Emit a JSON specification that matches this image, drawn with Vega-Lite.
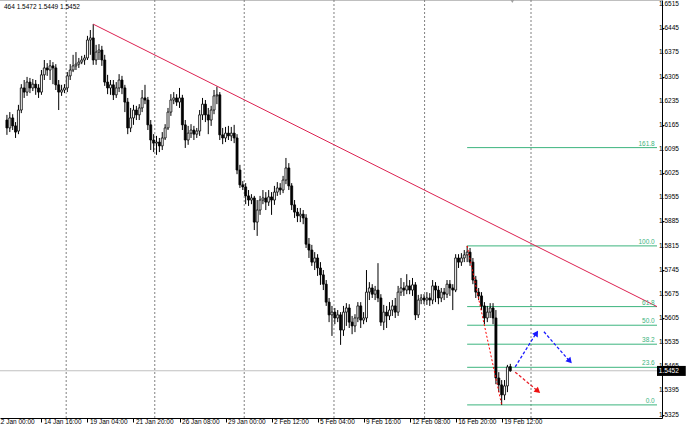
{
"$schema":"https://vega.github.io/schema/vega-lite/v6.json",
"width":662,"height":418,
"autosize":{"type":"none"},
"padding":{"left":0,"top":0,"right":28,"bottom":7},
"background":"#ffffff",
"config":{"view":{"stroke":null},"font":"Liberation Sans",
 "axis":{"grid":false,"labelOverlap":false,"labelFlush":false,"labelBound":false,"labelFontSize":6.5,"labelFont":"Liberation Sans","labelColor":"#000000","tickColor":"#000000","domainColor":"#000000","title":null}},
"datasets":{
"candles":[
{"i":4,"o":1.6179,"h":1.6194,"l":1.6136,"c":1.6156},
{"i":5,"o":1.6156,"h":1.6202,"l":1.6144,"c":1.6185},
{"i":6,"o":1.6185,"h":1.6196,"l":1.6150,"c":1.6162},
{"i":7,"o":1.6162,"h":1.6173,"l":1.6127,"c":1.6144},
{"i":8,"o":1.6147,"h":1.6223,"l":1.6138,"c":1.6208},
{"i":9,"o":1.6208,"h":1.6283,"l":1.6199,"c":1.6272},
{"i":10,"o":1.6272,"h":1.6295,"l":1.6243,"c":1.6260},
{"i":11,"o":1.6260,"h":1.6304,"l":1.6249,"c":1.6289},
{"i":12,"o":1.6289,"h":1.6301,"l":1.6257,"c":1.6272},
{"i":13,"o":1.6272,"h":1.6298,"l":1.6263,"c":1.6283},
{"i":14,"o":1.6283,"h":1.6295,"l":1.6252,"c":1.6272},
{"i":15,"o":1.6272,"h":1.6283,"l":1.6243,"c":1.6260},
{"i":16,"o":1.6260,"h":1.6324,"l":1.6252,"c":1.6310},
{"i":17,"o":1.6310,"h":1.6353,"l":1.6295,"c":1.6330},
{"i":18,"o":1.6330,"h":1.6344,"l":1.6307,"c":1.6324},
{"i":19,"o":1.6324,"h":1.6353,"l":1.6295,"c":1.6336},
{"i":20,"o":1.6336,"h":1.6347,"l":1.6283,"c":1.6330},
{"i":21,"o":1.6330,"h":1.6341,"l":1.6266,"c":1.6281},
{"i":22,"o":1.6281,"h":1.6295,"l":1.6208,"c":1.6260},
{"i":23,"o":1.6260,"h":1.6281,"l":1.6249,"c":1.6266},
{"i":24,"o":1.6266,"h":1.6283,"l":1.6257,"c":1.6272},
{"i":25,"o":1.6272,"h":1.6318,"l":1.6260,"c":1.6307},
{"i":26,"o":1.6307,"h":1.6341,"l":1.6295,"c":1.6324},
{"i":27,"o":1.6324,"h":1.6368,"l":1.6318,"c":1.6336},
{"i":28,"o":1.6336,"h":1.6376,"l":1.6324,"c":1.6341},
{"i":29,"o":1.6341,"h":1.6359,"l":1.6330,"c":1.6347},
{"i":30,"o":1.6347,"h":1.6365,"l":1.6341,"c":1.6353},
{"i":31,"o":1.6353,"h":1.6368,"l":1.6339,"c":1.6359},
{"i":32,"o":1.6359,"h":1.6423,"l":1.6353,"c":1.6411},
{"i":33,"o":1.6411,"h":1.6440,"l":1.6368,"c":1.6417},
{"i":34,"o":1.6417,"h":1.6457,"l":1.6339,"c":1.6353},
{"i":35,"o":1.6353,"h":1.6397,"l":1.6339,"c":1.6376},
{"i":36,"o":1.6376,"h":1.6399,"l":1.6353,"c":1.6382},
{"i":37,"o":1.6382,"h":1.6394,"l":1.6336,"c":1.6353},
{"i":38,"o":1.6353,"h":1.6368,"l":1.6278,"c":1.6289},
{"i":39,"o":1.6289,"h":1.6310,"l":1.6254,"c":1.6272},
{"i":40,"o":1.6272,"h":1.6295,"l":1.6252,"c":1.6281},
{"i":41,"o":1.6281,"h":1.6295,"l":1.6237,"c":1.6252},
{"i":42,"o":1.6252,"h":1.6289,"l":1.6243,"c":1.6272},
{"i":43,"o":1.6272,"h":1.6312,"l":1.6260,"c":1.6295},
{"i":44,"o":1.6295,"h":1.6307,"l":1.6254,"c":1.6272},
{"i":45,"o":1.6272,"h":1.6281,"l":1.6202,"c":1.6231},
{"i":46,"o":1.6231,"h":1.6243,"l":1.6138,"c":1.6156},
{"i":47,"o":1.6156,"h":1.6214,"l":1.6144,"c":1.6185},
{"i":48,"o":1.6185,"h":1.6223,"l":1.6165,"c":1.6208},
{"i":49,"o":1.6208,"h":1.6220,"l":1.6179,"c":1.6194},
{"i":50,"o":1.6194,"h":1.6225,"l":1.6179,"c":1.6214},
{"i":51,"o":1.6214,"h":1.6266,"l":1.6202,"c":1.6243},
{"i":52,"o":1.6243,"h":1.6281,"l":1.6225,"c":1.6237},
{"i":53,"o":1.6237,"h":1.6246,"l":1.6150,"c":1.6165},
{"i":54,"o":1.6165,"h":1.6179,"l":1.6092,"c":1.6121},
{"i":55,"o":1.6121,"h":1.6138,"l":1.6086,"c":1.6112},
{"i":56,"o":1.6112,"h":1.6133,"l":1.6078,"c":1.6115},
{"i":57,"o":1.6115,"h":1.6127,"l":1.6086,"c":1.6104},
{"i":58,"o":1.6104,"h":1.6144,"l":1.6092,"c":1.6127},
{"i":59,"o":1.6127,"h":1.6167,"l":1.6121,"c":1.6156},
{"i":60,"o":1.6156,"h":1.6214,"l":1.6150,"c":1.6202},
{"i":61,"o":1.6202,"h":1.6254,"l":1.6191,"c":1.6237},
{"i":62,"o":1.6237,"h":1.6260,"l":1.6225,"c":1.6243},
{"i":63,"o":1.6243,"h":1.6254,"l":1.6220,"c":1.6231},
{"i":64,"o":1.6231,"h":1.6272,"l":1.6214,"c":1.6243},
{"i":65,"o":1.6243,"h":1.6252,"l":1.6150,"c":1.6165},
{"i":66,"o":1.6165,"h":1.6179,"l":1.6098,"c":1.6121},
{"i":67,"o":1.6121,"h":1.6162,"l":1.6107,"c":1.6141},
{"i":68,"o":1.6141,"h":1.6167,"l":1.6127,"c":1.6150},
{"i":69,"o":1.6150,"h":1.6162,"l":1.6121,"c":1.6138},
{"i":70,"o":1.6138,"h":1.6156,"l":1.6127,"c":1.6147},
{"i":71,"o":1.6147,"h":1.6208,"l":1.6133,"c":1.6194},
{"i":72,"o":1.6194,"h":1.6243,"l":1.6179,"c":1.6225},
{"i":73,"o":1.6225,"h":1.6237,"l":1.6173,"c":1.6194},
{"i":74,"o":1.6194,"h":1.6214,"l":1.6138,"c":1.6179},
{"i":75,"o":1.6179,"h":1.6220,"l":1.6162,"c":1.6208},
{"i":76,"o":1.6208,"h":1.6266,"l":1.6196,"c":1.6249},
{"i":77,"o":1.6249,"h":1.6276,"l":1.6225,"c":1.6252},
{"i":78,"o":1.6252,"h":1.6260,"l":1.6121,"c":1.6136},
{"i":79,"o":1.6136,"h":1.6156,"l":1.6109,"c":1.6127},
{"i":80,"o":1.6127,"h":1.6159,"l":1.6115,"c":1.6141},
{"i":81,"o":1.6141,"h":1.6162,"l":1.6121,"c":1.6133},
{"i":82,"o":1.6133,"h":1.6159,"l":1.6118,"c":1.6141},
{"i":83,"o":1.6141,"h":1.6165,"l":1.6112,"c":1.6127},
{"i":84,"o":1.6127,"h":1.6138,"l":1.6022,"c":1.6034},
{"i":85,"o":1.6034,"h":1.6049,"l":1.5982,"c":1.5991},
{"i":86,"o":1.5991,"h":1.6002,"l":1.5976,"c":1.5985},
{"i":87,"o":1.5985,"h":1.5996,"l":1.5935,"c":1.5959},
{"i":88,"o":1.5959,"h":1.5976,"l":1.5930,"c":1.5947},
{"i":89,"o":1.5947,"h":1.5964,"l":1.5935,"c":1.5953},
{"i":90,"o":1.5953,"h":1.5959,"l":1.5860,"c":1.5883},
{"i":91,"o":1.5883,"h":1.5947,"l":1.5843,"c":1.5918},
{"i":92,"o":1.5918,"h":1.5959,"l":1.5904,"c":1.5947},
{"i":93,"o":1.5947,"h":1.5976,"l":1.5935,"c":1.5953},
{"i":94,"o":1.5953,"h":1.5970,"l":1.5918,"c":1.5941},
{"i":95,"o":1.5941,"h":1.5976,"l":1.5930,"c":1.5956},
{"i":96,"o":1.5956,"h":1.5970,"l":1.5904,"c":1.5947},
{"i":97,"o":1.5947,"h":1.5988,"l":1.5933,"c":1.5970},
{"i":98,"o":1.5970,"h":1.5999,"l":1.5959,"c":1.5982},
{"i":99,"o":1.5982,"h":1.5996,"l":1.5962,"c":1.5976},
{"i":100,"o":1.5976,"h":1.6017,"l":1.5967,"c":1.6005},
{"i":101,"o":1.6005,"h":1.6069,"l":1.5993,"c":1.6040},
{"i":102,"o":1.6040,"h":1.6054,"l":1.5976,"c":1.5988},
{"i":103,"o":1.5988,"h":1.5996,"l":1.5918,"c":1.5933},
{"i":104,"o":1.5933,"h":1.5947,"l":1.5895,"c":1.5912},
{"i":105,"o":1.5912,"h":1.5924,"l":1.5883,"c":1.5901},
{"i":106,"o":1.5901,"h":1.5924,"l":1.5883,"c":1.5906},
{"i":107,"o":1.5906,"h":1.5918,"l":1.5877,"c":1.5895},
{"i":108,"o":1.5895,"h":1.5906,"l":1.5808,"c":1.5819},
{"i":109,"o":1.5819,"h":1.5837,"l":1.5779,"c":1.5802},
{"i":110,"o":1.5802,"h":1.5817,"l":1.5756,"c":1.5767},
{"i":111,"o":1.5767,"h":1.5796,"l":1.5744,"c":1.5779},
{"i":112,"o":1.5779,"h":1.5790,"l":1.5727,"c":1.5750},
{"i":113,"o":1.5750,"h":1.5767,"l":1.5701,"c":1.5730},
{"i":114,"o":1.5730,"h":1.5744,"l":1.5686,"c":1.5703},
{"i":115,"o":1.5703,"h":1.5715,"l":1.5640,"c":1.5651},
{"i":116,"o":1.5651,"h":1.5663,"l":1.5593,"c":1.5614},
{"i":117,"o":1.5614,"h":1.5640,"l":1.5553,"c":1.5622},
{"i":118,"o":1.5622,"h":1.5634,"l":1.5587,"c":1.5605},
{"i":119,"o":1.5605,"h":1.5628,"l":1.5593,"c":1.5614},
{"i":120,"o":1.5614,"h":1.5622,"l":1.5527,"c":1.5570},
{"i":121,"o":1.5570,"h":1.5640,"l":1.5553,"c":1.5622},
{"i":122,"o":1.5622,"h":1.5648,"l":1.5582,"c":1.5634},
{"i":123,"o":1.5634,"h":1.5645,"l":1.5576,"c":1.5593},
{"i":124,"o":1.5593,"h":1.5611,"l":1.5558,"c":1.5582},
{"i":125,"o":1.5582,"h":1.5616,"l":1.5564,"c":1.5605},
{"i":126,"o":1.5605,"h":1.5651,"l":1.5593,"c":1.5640},
{"i":127,"o":1.5640,"h":1.5651,"l":1.5576,"c":1.5599},
{"i":128,"o":1.5599,"h":1.5622,"l":1.5587,"c":1.5605},
{"i":129,"o":1.5605,"h":1.5744,"l":1.5593,"c":1.5680},
{"i":130,"o":1.5680,"h":1.5709,"l":1.5657,"c":1.5692},
{"i":131,"o":1.5692,"h":1.5703,"l":1.5663,"c":1.5674},
{"i":132,"o":1.5674,"h":1.5698,"l":1.5657,"c":1.5686},
{"i":133,"o":1.5686,"h":1.5764,"l":1.5651,"c":1.5663},
{"i":134,"o":1.5663,"h":1.5674,"l":1.5582,"c":1.5593},
{"i":135,"o":1.5593,"h":1.5643,"l":1.5570,"c":1.5622},
{"i":136,"o":1.5622,"h":1.5640,"l":1.5576,"c":1.5611},
{"i":137,"o":1.5611,"h":1.5651,"l":1.5599,"c":1.5628},
{"i":138,"o":1.5628,"h":1.5657,"l":1.5611,"c":1.5640},
{"i":139,"o":1.5640,"h":1.5663,"l":1.5605,"c":1.5622},
{"i":140,"o":1.5622,"h":1.5698,"l":1.5611,"c":1.5680},
{"i":141,"o":1.5680,"h":1.5721,"l":1.5669,"c":1.5692},
{"i":142,"o":1.5692,"h":1.5709,"l":1.5669,"c":1.5686},
{"i":143,"o":1.5686,"h":1.5732,"l":1.5674,"c":1.5698},
{"i":144,"o":1.5698,"h":1.5715,"l":1.5674,"c":1.5686},
{"i":145,"o":1.5686,"h":1.5721,"l":1.5669,"c":1.5701},
{"i":146,"o":1.5701,"h":1.5709,"l":1.5599,"c":1.5614},
{"i":147,"o":1.5614,"h":1.5672,"l":1.5605,"c":1.5657},
{"i":148,"o":1.5657,"h":1.5674,"l":1.5645,"c":1.5663},
{"i":149,"o":1.5663,"h":1.5674,"l":1.5645,"c":1.5657},
{"i":150,"o":1.5657,"h":1.5680,"l":1.5643,"c":1.5663},
{"i":151,"o":1.5663,"h":1.5677,"l":1.5640,"c":1.5657},
{"i":152,"o":1.5657,"h":1.5715,"l":1.5645,"c":1.5698},
{"i":153,"o":1.5698,"h":1.5709,"l":1.5651,"c":1.5686},
{"i":154,"o":1.5686,"h":1.5698,"l":1.5645,"c":1.5663},
{"i":155,"o":1.5663,"h":1.5692,"l":1.5651,"c":1.5680},
{"i":156,"o":1.5680,"h":1.5692,"l":1.5657,"c":1.5674},
{"i":157,"o":1.5674,"h":1.5715,"l":1.5663,"c":1.5703},
{"i":158,"o":1.5703,"h":1.5715,"l":1.5669,"c":1.5692},
{"i":159,"o":1.5692,"h":1.5703,"l":1.5628,"c":1.5686},
{"i":160,"o":1.5686,"h":1.5790,"l":1.5680,"c":1.5779},
{"i":161,"o":1.5779,"h":1.5790,"l":1.5750,"c":1.5767},
{"i":162,"o":1.5767,"h":1.5793,"l":1.5756,"c":1.5779},
{"i":163,"o":1.5779,"h":1.5802,"l":1.5767,"c":1.5788},
{"i":164,"o":1.5788,"h":1.5814,"l":1.5767,"c":1.5796},
{"i":165,"o":1.5796,"h":1.5808,"l":1.5756,"c":1.5767},
{"i":166,"o":1.5767,"h":1.5779,"l":1.5703,"c":1.5715},
{"i":167,"o":1.5715,"h":1.5727,"l":1.5663,"c":1.5680},
{"i":168,"o":1.5680,"h":1.5692,"l":1.5657,"c":1.5669},
{"i":169,"o":1.5669,"h":1.5680,"l":1.5628,"c":1.5640},
{"i":170,"o":1.5640,"h":1.5651,"l":1.5587,"c":1.5605},
{"i":171,"o":1.5605,"h":1.5640,"l":1.5593,"c":1.5622},
{"i":172,"o":1.5622,"h":1.5648,"l":1.5605,"c":1.5634},
{"i":173,"o":1.5634,"h":1.5648,"l":1.5587,"c":1.5605},
{"i":174,"o":1.5605,"h":1.5628,"l":1.5413,"c":1.5431},
{"i":175,"o":1.5431,"h":1.5448,"l":1.5390,"c":1.5411},
{"i":176,"o":1.5411,"h":1.5425,"l":1.5353,"c":1.5382},
{"i":177,"o":1.5382,"h":1.5425,"l":1.5367,"c":1.5408},
{"i":178,"o":1.5408,"h":1.5469,"l":1.5390,"c":1.5463},
{"i":179,"o":1.5464,"h":1.5472,"l":1.5449,"c":1.5452}
],
"vgrid":[{"i":24.6},{"i":55.4},{"i":86.5},{"i":117.7},{"i":149.2},{"i":186.2}],
"fib":[{"lv":"161.8","p":1.6099},{"lv":"100.0","p":1.5814},{"lv":"61.8","p":1.5638},{"lv":"50.0","p":1.5584},{"lv":"38.2","p":1.5529},{"lv":"23.6","p":1.5462},{"lv":"0.0","p":1.5353}],
"segs":[
{"k":"trend","i1":34,"p1":1.6457,"i2":230,"p2":1.5638},
{"k":"fibdiag","i1":164,"p1":1.5814,"i2":176,"p2":1.5353},
{"k":"blue","i1":180.7,"p1":1.5463,"i2":188.0,"p2":1.5561},
{"k":"blue","i1":190.7,"p1":1.5565,"i2":199.6,"p2":1.5480},
{"k":"red","i1":180.7,"p1":1.5448,"i2":188.6,"p2":1.5393}
],
"heads":[
{"k":"blue","i":188.1,"p":1.5561,"ang":32},
{"k":"blue","i":199.7,"p":1.5480,"ang":138},
{"k":"red","i":188.6,"p":1.5393,"ang":130}
],
"yticks":[{"v":1.5325},{"v":1.5395},{"v":1.5465},{"v":1.5535},{"v":1.5605},{"v":1.5675},{"v":1.5745},{"v":1.5815},{"v":1.5885},{"v":1.5955},{"v":1.6025},{"v":1.6095},{"v":1.6165},{"v":1.6235},{"v":1.6305},{"v":1.6375},{"v":1.6445},{"v":1.6515}],
"last":[{"p":1.5452,"lbl":"1.5452"}],
"header":[{"t":"464 1.5472 1.5449 1.5452"}]
},
"layer":[
{"data":{"name":"vgrid"},"mark":{"type":"rule","color":"#808080","strokeWidth":1,"strokeDash":[2,2]},
 "encoding":{"x":{"field":"i","type":"quantitative","title":null,"scale":{"domain":[3.33,230],"nice":false,"zero":false},
  "axis":{"orient":"bottom","title":null,"values":[3.4,16,32,48,64,80,96,112,128,144,160,176],
   "labelExpr":"datum.value<5?'12 Jan 00:00':datum.value==16?'14 Jan 16:00':datum.value==32?'19 Jan 04:00':datum.value==48?'21 Jan 20:00':datum.value==64?'26 Jan 08:00':datum.value==80?'29 Jan 00:00':datum.value==96?'2 Feb 12:00':datum.value==112?'5 Feb 04:00':datum.value==128?'9 Feb 16:00':datum.value==144?'12 Feb 08:00':datum.value==160?'16 Feb 20:00':'19 Feb 12:00'",
   "labelAlign":"left","labelBaseline":"top",
   "labelOffset":{"condition":{"test":"datum.value<5","value":-8.6},"value":2},
   "tickOpacity":{"condition":{"test":"datum.value<5","value":0},"value":1},
   "labelPadding":-4,"tickSize":4,"labelOverlap":false,"labelFlush":false,"labelBound":false,"grid":false}}}},
{"data":{"name":"last"},"mark":{"type":"rule","color":"#c0c0c0","strokeWidth":1},
 "encoding":{"y":{"field":"p","type":"quantitative","title":null,"scale":{"domain":[1.5315,1.6527],"nice":false,"zero":false},
  "axis":{"orient":"right","title":null,"values":[1.5325,1.5395,1.5465,1.5535,1.5605,1.5675,1.5745,1.5815,1.5885,1.5955,1.6025,1.6095,1.6165,1.6235,1.6305,1.6375,1.6445,1.6515],
   "labels":false,"tickSize":2,"grid":false}}}},
{"data":{"name":"fib"},"mark":{"type":"rule","color":"#3cb47e","strokeWidth":1},
 "encoding":{"x":{"datum":164,"type":"quantitative","title":null},"x2":{"datum":230},
  "y":{"field":"p","type":"quantitative","title":null}}},
{"data":{"name":"candles"},"mark":{"type":"rule","color":"#000000","strokeWidth":1},
 "encoding":{"x":{"field":"i","type":"quantitative","title":null},
  "y":{"field":"l","type":"quantitative","title":null},"y2":{"field":"h"}}},
{"data":{"name":"candles"},"mark":{"type":"bar","size":2,"stroke":"#000000","strokeWidth":0.8},
 "encoding":{"x":{"field":"i","type":"quantitative","title":null},
  "y":{"field":"o","type":"quantitative","title":null},"y2":{"field":"c"},
  "fill":{"condition":{"test":"datum.c < datum.o","value":"#000000"},"value":"#ffffff"}}},
{"data":{"name":"segs"},"transform":[{"filter":"datum.k=='trend'"}],"mark":{"type":"rule","color":"#dc2050","strokeWidth":1},
 "encoding":{"x":{"field":"i1","type":"quantitative","title":null},"x2":{"field":"i2"},
  "y":{"field":"p1","type":"quantitative","title":null},"y2":{"field":"p2"}}},
{"data":{"name":"segs"},"transform":[{"filter":"datum.k=='fibdiag'"}],"mark":{"type":"rule","color":"#ff0000","strokeWidth":1,"strokeDash":[2,2]},
 "encoding":{"x":{"field":"i1","type":"quantitative","title":null},"x2":{"field":"i2"},
  "y":{"field":"p1","type":"quantitative","title":null},"y2":{"field":"p2"}}},
{"data":{"name":"segs"},"transform":[{"filter":"datum.k=='blue'"}],"mark":{"type":"rule","color":"#1a1aff","strokeWidth":1.3,"strokeDash":[3,2]},
 "encoding":{"x":{"field":"i1","type":"quantitative","title":null},"x2":{"field":"i2"},
  "y":{"field":"p1","type":"quantitative","title":null},"y2":{"field":"p2"}}},
{"data":{"name":"segs"},"transform":[{"filter":"datum.k=='red'"}],"mark":{"type":"rule","color":"#e8202a","strokeWidth":1.3,"strokeDash":[3,2]},
 "encoding":{"x":{"field":"i1","type":"quantitative","title":null},"x2":{"field":"i2"},
  "y":{"field":"p1","type":"quantitative","title":null},"y2":{"field":"p2"}}},
{"data":{"name":"heads"},"mark":{"type":"point","shape":"triangle-up","filled":true,"size":45,"opacity":1},
 "encoding":{"x":{"field":"i","type":"quantitative","title":null},
  "y":{"field":"p","type":"quantitative","title":null},
  "angle":{"field":"ang","type":"quantitative","scale":null},
  "fill":{"condition":{"test":"datum.k=='red'","value":"#ee1111"},"value":"#1a1aff"}}},
{"data":{"name":"fib"},"mark":{"type":"text","align":"right","baseline":"bottom","dy":-1,"fontSize":6.5,"font":"Liberation Sans","color":"#3cb47e"},
 "encoding":{"x":{"datum":229.2,"type":"quantitative","title":null},
  "y":{"field":"p","type":"quantitative","title":null},"text":{"field":"lv"}}},
{"data":{"values":[{"p":1.6527}]},"mark":{"type":"rule","color":"#808080","strokeWidth":1},
 "encoding":{"y":{"field":"p","type":"quantitative","title":null}}},
{"data":{"values":[{"i":179.7,"p":1.6527}]},"mark":{"type":"point","shape":"triangle-down","filled":true,"size":50,"color":"#a0a0a0","opacity":1},
 "encoding":{"x":{"field":"i","type":"quantitative","title":null},
  "y":{"field":"p","type":"quantitative","title":null}}},
{"data":{"name":"header"},"mark":{"type":"text","align":"left","baseline":"top","dy":4,"dx":-1,"fontSize":6.5,"font":"Liberation Sans","color":"#000000"},
 "encoding":{"x":{"datum":3.33,"type":"quantitative","title":null},
  "y":{"datum":1.6527,"type":"quantitative","title":null},"text":{"field":"t"}}},
{"data":{"name":"yticks"},"mark":{"type":"text","align":"left","baseline":"middle","dx":2,"fontSize":6.5,"font":"Liberation Sans","color":"#000000"},
 "encoding":{"x":{"datum":230,"type":"quantitative","title":null},
  "y":{"field":"v","type":"quantitative","title":null},"text":{"field":"v","type":"quantitative","format":".4f"}}},
{"data":{"name":"last"},"mark":{"type":"rect","color":"#000000"},
 "encoding":{"x":{"datum":230,"type":"quantitative","title":null},"x2":{"datum":240},
  "y":{"datum":1.5466,"type":"quantitative","title":null},"y2":{"datum":1.5437}}},
{"data":{"name":"last"},"mark":{"type":"text","align":"left","baseline":"middle","fontSize":6.5,"font":"Liberation Sans","color":"#ffffff","dx":1},
 "encoding":{"x":{"datum":230.3,"type":"quantitative","title":null},
  "y":{"field":"p","type":"quantitative","title":null},"text":{"field":"lbl"}}}
]
}
